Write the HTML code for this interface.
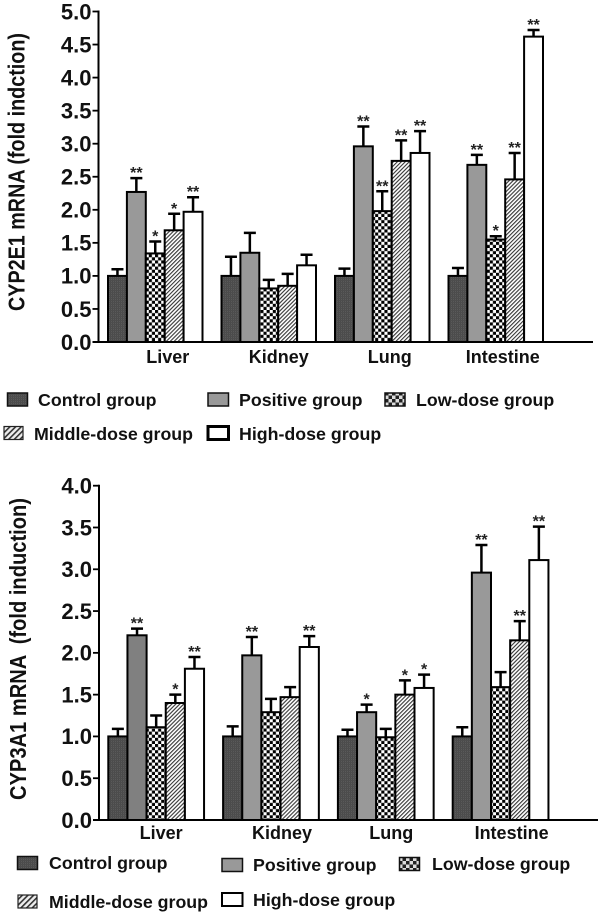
<!DOCTYPE html>
<html lang="en">
<head>
<meta charset="utf-8">
<title>CYP2E1 and CYP3A1 mRNA fold induction</title>
<style>
html,body{margin:0;padding:0;background:#fff;width:600px;height:914px;overflow:hidden}
svg{display:block}
text{font-family:"Liberation Sans",sans-serif;font-weight:bold;fill:#111}
.legend{font-size:17.8px}
.xlab{font-size:18px;text-anchor:middle}
.tick{font-size:22px;text-anchor:end}
.ytitle{font-size:23px}
.star{font-size:16px;text-anchor:middle;fill:#222}
</style>
</head>
<body>
<svg id="figure" width="600" height="914" viewBox="0 0 600 914" xmlns="http://www.w3.org/2000/svg">
  <defs>
    <pattern id="p-control" width="2" height="2" patternUnits="userSpaceOnUse">
      <rect width="2" height="2" fill="#5a5a5a"/>
      <rect width="1" height="2" fill="#4a4a4a"/>
      <rect width="2" height="1" fill="#4d4d4d"/>
    </pattern>
    <pattern id="p-low" width="6.2" height="6.2" patternUnits="userSpaceOnUse">
      <rect width="6.2" height="6.2" fill="#fff"/>
      <rect width="3.1" height="3.1" fill="#000"/>
      <rect x="3.1" y="3.1" width="3.1" height="3.1" fill="#000"/>
    </pattern>
    <pattern id="p-mid" width="2.8" height="2.8" patternUnits="userSpaceOnUse" patternTransform="rotate(45)">
      <rect width="2.8" height="2.8" fill="#fff"/>
      <rect width="1.1" height="2.8" fill="#333"/>
    </pattern>
    <pattern id="p-low-key" width="7" height="7" patternUnits="userSpaceOnUse">
      <rect width="7" height="7" fill="#ddd"/>
      <rect width="3.5" height="3.5" fill="#222"/>
      <rect x="3.5" y="3.5" width="3.5" height="3.5" fill="#222"/>
    </pattern>
    <pattern id="p-mid-key" width="4" height="4" patternUnits="userSpaceOnUse" patternTransform="rotate(45)">
      <rect width="4" height="4" fill="#eee"/>
      <rect width="1.6" height="4" fill="#333"/>
    </pattern>
  </defs>

  <g id="chart-top">
    <text class="ytitle" transform="translate(24.5 311) rotate(-90)" textLength="278" lengthAdjust="spacingAndGlyphs">CYP2E1 mRNA (fold indction)</text>
  </g>
  <g id="legend-top">
    <g>
      <rect x="7.5" y="393" width="20" height="13" fill="url(#p-control)" stroke="#111" stroke-width="1.5"/>
      <text class="legend" x="38" y="406">Control group</text>
    </g>
    <g>
      <rect x="208" y="393" width="20.5" height="13" fill="#999" stroke="#111" stroke-width="1.5"/>
      <text class="legend" x="239" y="406">Positive group</text>
    </g>
    <g>
      <rect x="385" y="393" width="20" height="13" fill="url(#p-low-key)" stroke="#111" stroke-width="1.5"/>
      <text class="legend" x="416" y="406">Low-dose group</text>
    </g>
    <g>
      <rect x="4" y="426.500" width="19" height="13" fill="url(#p-mid-key)" stroke="#222" stroke-width="1.2"/>
      <text class="legend" x="34" y="440">Middle-dose group</text>
    </g>
    <g>
      <rect x="208" y="426.500" width="20.500" height="13" fill="#fff" stroke="#000" stroke-width="3"/>
      <text class="legend" x="239" y="440">High-dose group</text>
    </g>
  </g>

  <g id="chart-bottom">
    <text class="ytitle" transform="translate(26 800) rotate(-90)" textLength="302" lengthAdjust="spacingAndGlyphs" xml:space="preserve">CYP3A1 mRNA  (fold induction)</text>
  </g>
  <g id="legend-bottom">
    <g>
      <rect x="17.500" y="856.500" width="20" height="13" fill="url(#p-control)" stroke="#111" stroke-width="1.5"/>
      <text class="legend" x="49" y="869">Control group</text>
    </g>
    <g>
      <rect x="222" y="858.500" width="20.500" height="13" fill="#999" stroke="#111" stroke-width="1.5"/>
      <text class="legend" x="253" y="871">Positive group</text>
    </g>
    <g>
      <rect x="399.500" y="857.500" width="20" height="13" fill="url(#p-low-key)" stroke="#111" stroke-width="1.5"/>
      <text class="legend" x="432" y="870">Low-dose group</text>
    </g>
    <g>
      <rect x="18" y="895" width="19" height="13" fill="url(#p-mid-key)" stroke="#222" stroke-width="1.2"/>
      <text class="legend" x="49" y="908">Middle-dose group</text>
    </g>
    <g>
      <rect x="222" y="893" width="20.500" height="13" fill="#fff" stroke="#000" stroke-width="2"/>
      <text class="legend" x="253" y="906">High-dose group</text>
    </g>
  </g>
</svg>

<script>
// Shared categories
var categories = ["Liver", "Kidney", "Lung", "Intestine"];
var seriesKeys = ["control", "positive", "low-dose", "middle-dose", "high-dose"];

// CYP2E1 values (fold induction)
var e1Ticks = ["0.0", "0.5", "1.0", "1.5", "2.0", "2.5", "3.0", "3.5", "4.0", "4.5", "5.0"];
var e1Control = [1.00, 1.00, 1.00, 1.00];
var e1Positive = [2.27, 1.35, 2.96, 2.68];
var e1Low = [1.34, 0.81, 1.98, 1.55];
var e1Middle = [1.69, 0.85, 2.74, 2.46];
var e1High = [1.97, 1.16, 2.86, 4.62];
var e1ControlErr = [0.10, 0.29, 0.11, 0.12];
var e1PositiveErr = [0.21, 0.30, 0.30, 0.15];
var e1LowErr = [0.18, 0.13, 0.30, 0.05];
var e1MiddleErr = [0.25, 0.18, 0.31, 0.40];
var e1HighErr = [0.22, 0.16, 0.33, 0.10];
var e1ControlSig = ["", "", "", ""];
var e1PositiveSig = ["**", "", "**", "**"];
var e1LowSig = ["*", "", "**", "*"];
var e1MiddleSig = ["*", "", "**", "**"];
var e1HighSig = ["**", "", "**", "**"];

// CYP3A1 values (fold induction)
var a1Ticks = ["0.0", "0.5", "1.0", "1.5", "2.0", "2.5", "3.0", "3.5", "4.0"];
var a1Control = [1.00, 1.00, 1.00, 1.00];
var a1Positive = [2.21, 1.97, 1.29, 2.96];
var a1Low = [1.11, 1.29, 0.99, 1.59];
var a1Middle = [1.40, 1.47, 1.50, 2.15];
var a1High = [1.81, 2.07, 1.58, 3.11];
var a1ControlErr = [0.09, 0.12, 0.08, 0.11];
var a1PositiveErr = [0.08, 0.22, 0.09, 0.33];
var a1LowErr = [0.14, 0.16, 0.10, 0.18];
var a1MiddleErr = [0.10, 0.12, 0.17, 0.23];
var a1HighErr = [0.14, 0.13, 0.16, 0.40];
var a1ControlSig = ["", "", "", ""];
var a1PositiveSig = ["**", "**", "*", "**"];
var a1LowSig = ["", "", "", ""];
var a1MiddleSig = ["*", "", "*", "**"];
var a1HighSig = ["**", "**", "*", "**"];

var SVGNS = "http://www.w3.org/2000/svg";
var fills = ["url(#p-control)", "#999999", "url(#p-low)", "url(#p-mid)", "#ffffff"];

function mk(tag, parent, attrs) {
  var el = document.createElementNS(SVGNS, tag);
  for (var k in attrs) el.setAttribute(k, attrs[k]);
  parent.appendChild(el);
  return el;
}

function drawChart(root, prefix, layout, ticks, values, errors, sigs) {
  var yMax = parseFloat(ticks[ticks.length - 1]);
  function yScale(v) { return layout.y0 - (v / yMax) * (layout.y0 - layout.yTop); }
  function xScale(g, s) { return layout.x0 + g * layout.step + s * layout.barW; }

  values.forEach(function (series, s) {
    series.forEach(function (v, g) {
      var left = xScale(g, s);
      var top = yScale(v);
      var upper = yScale(v + errors[s][g]);
      var mid = left + layout.barW / 2;

      var err = mk("path", root, {
        d: "M" + mid + " " + top + "V" + upper + "M" + (mid - 6) + " " + upper + "H" + (mid + 6),
        fill: "none", stroke: "#000", "stroke-width": 2.5
      });
      
      

      var barFill = fills[s];
      if (layout.firstPositiveFill && s === 1 && g === 0) barFill = layout.firstPositiveFill;

      var bar = mk("rect", root, {
        x: left, y: top, width: layout.barW, height: layout.y0 - top,
        fill: barFill, stroke: "#000", "stroke-width": 2
      });
      
      
      bar.setAttribute('data-series', seriesKeys[s]);
      bar.setAttribute('data-category', categories[g]);

      if (sigs[s][g]) {
        var star = mk("text", root, { "class": "star", x: mid, y: upper });
        star.textContent = sigs[s][g];
        
        
      }
    });
  });

  var yAxis = mk("line", root, {
    x1: layout.axisX, x2: layout.axisX, y1: layout.yTop - 1, y2: layout.y0 + 1,
    stroke: "#000", "stroke-width": 2
  });
  
  

  var xAxis = mk("line", root, {
    x1: layout.axisX - 6, x2: layout.axisEnd, y1: layout.y0, y2: layout.y0,
    stroke: "#000", "stroke-width": 2
  });
  
  

  ticks.forEach(function (t) {
    var y = yScale(parseFloat(t));
    var mark = mk("line", root, {
      x1: layout.axisX - 6, x2: layout.axisX, y1: y, y2: y,
      stroke: "#000", "stroke-width": 1.8
    });
    
    
    var lab = mk("text", root, { "class": "tick", x: layout.axisX - 7, y: y + 7.8 });
    lab.textContent = t;
    
    
  });

  categories.forEach(function (c, g) {
    var lab = mk("text", root, {
      "class": "xlab",
      x: xScale(g, 2.5) + layout.labelShift[g],
      y: layout.labelY
    });
    lab.textContent = c;
    
    
  });
}

drawChart(
  document.getElementById("chart-top"), "e1",
  { x0: 108, barW: 18.9, step: 113.5, y0: 342, yTop: 11.5, axisX: 98.5, axisEnd: 593, labelY: 363, labelShift: [12.5, 10, 7.5, 7] },
  e1Ticks,
  [e1Control, e1Positive, e1Low, e1Middle, e1High],
  [e1ControlErr, e1PositiveErr, e1LowErr, e1MiddleErr, e1HighErr],
  [e1ControlSig, e1PositiveSig, e1LowSig, e1MiddleSig, e1HighSig]
);

drawChart(
  document.getElementById("chart-bottom"), "a1",
  { x0: 108.3, barW: 19.15, step: 114.8, y0: 820, yTop: 485.7, axisX: 99, axisEnd: 598, labelY: 839, labelShift: [5, 11, 5.5, 11], firstPositiveFill: "#808080" },
  a1Ticks,
  [a1Control, a1Positive, a1Low, a1Middle, a1High],
  [a1ControlErr, a1PositiveErr, a1LowErr, a1MiddleErr, a1HighErr],
  [a1ControlSig, a1PositiveSig, a1LowSig, a1MiddleSig, a1HighSig]
);
</script>
</body>
</html>
